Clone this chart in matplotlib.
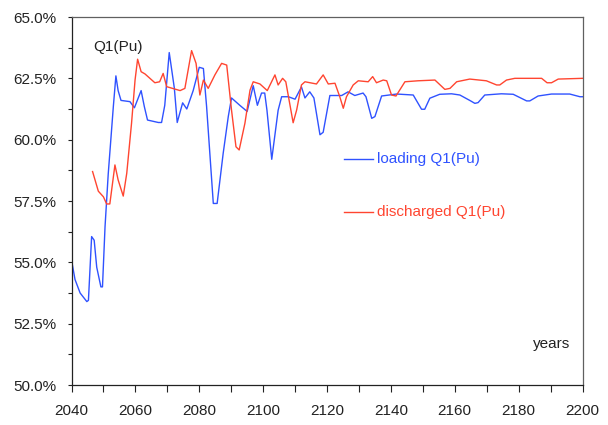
import matplotlib
matplotlib.use("Agg")
import matplotlib.pyplot as plt
from matplotlib.ticker import MultipleLocator, FuncFormatter

plt.rcParams['font.family'] = ['Liberation Sans', 'DejaVu Sans']

# loading Q1(Pu)
load_years = [2040, 2041.1, 2042.7, 2044.8, 2045.3, 2046.3, 2047.1, 2047.9, 2049.2, 2049.7,
              2050.5, 2051.5, 2053.1, 2053.9, 2054.6, 2055.5, 2058.3, 2059.7, 2061.8, 2062.8,
              2063.8, 2067.2, 2068.2, 2069.2, 2070.6, 2072.2, 2073.1, 2074.8, 2076.1, 2078.1,
              2080, 2081.3, 2082.3, 2084.4, 2085.6, 2087.5, 2089.1, 2090.1, 2092.7, 2095,
              2096.9, 2098.2, 2099.5, 2100.5, 2101.2, 2102.7, 2104.7, 2105.8, 2107.9, 2110,
              2112, 2113.1, 2114.6, 2115.9, 2117.8, 2118.8, 2120.9, 2124.6, 2126.6, 2128.7,
              2131.3, 2132.2, 2134, 2135, 2137.1, 2141.8, 2147, 2149.6, 2150.6, 2152.2,
              2155.3, 2159, 2161.6, 2164.7, 2166.3, 2167.3, 2169.4, 2174.6, 2178.3, 2182.5,
              2183.5, 2186.1, 2190.3, 2196, 2199.2, 2200]
load_q1 = [55.1, 54.3, 53.75, 53.4, 53.45, 56.05, 55.9, 54.8, 54.0, 54.0,
           56.45, 58.6, 61.35, 62.6, 62.0, 61.6, 61.55, 61.3, 62.0, 61.35,
           60.8, 60.7, 60.7, 61.4, 63.55, 62.1, 60.7, 61.5, 61.25, 62.0,
           62.95, 62.9, 61.35, 57.4, 57.4, 59.45, 60.95, 61.7, 61.4, 61.15,
           62.2, 61.4, 61.9, 61.9, 61.2, 59.2, 61.2, 61.75, 61.75, 61.65,
           62.15, 61.7, 61.95, 61.7, 60.2, 60.3, 61.8, 61.8, 61.95, 61.8,
           61.9, 61.75, 60.87, 60.94, 61.78, 61.86, 61.82, 61.24, 61.24, 61.69,
           61.85, 61.87, 61.82, 61.6, 61.48, 61.51, 61.82, 61.87, 61.85, 61.58,
           61.58, 61.78, 61.86, 61.86, 61.75, 61.75]

# discharged Q1(Pu)
disc_years = [2046.6, 2048.4, 2050, 2051, 2052, 2053.6, 2054.6, 2056.2, 2057.3, 2058.8,
              2059.9, 2060.7, 2061.8, 2063, 2066.1, 2067.6, 2068.7, 2069.8, 2074, 2075.5,
              2077.6, 2079, 2080.2, 2081.3, 2082.8, 2084.9, 2087, 2088.6, 2090.1, 2091.5,
              2092.5, 2094.3, 2095.9, 2096.9, 2099, 2101.3, 2103.7, 2104.7, 2106.1, 2107.1,
              2109.4, 2110.5, 2112, 2113.1, 2116.7, 2118.8, 2120.4, 2122.5, 2124, 2125.1,
              2126.1, 2128.2, 2129.8, 2132.9, 2134.3, 2135.5, 2137.6, 2138.7, 2140.2, 2141.6,
              2144.4, 2148.5, 2153.8, 2156.9, 2158.5, 2160.6, 2164.7, 2169.9, 2173.1, 2174.1,
              2176.2, 2178.8, 2187.2, 2188.9, 2190.3, 2192.4, 2200]
disc_q1 = [58.7, 57.9, 57.67, 57.38, 57.38, 58.97, 58.36, 57.7, 58.63, 60.67,
           62.43, 63.28, 62.77, 62.68, 62.32, 62.36, 62.7, 62.16, 62.0, 62.09,
           63.63, 63.11, 61.82, 62.43, 62.09, 62.64, 63.11, 63.04, 61.21, 59.71,
           59.58, 60.67, 62.02, 62.36, 62.27, 62.0, 62.64, 62.23, 62.5, 62.36,
           60.69, 61.21, 62.23, 62.36, 62.27, 62.64, 62.27, 62.3, 61.75, 61.28,
           61.75, 62.23, 62.4, 62.36, 62.57, 62.32, 62.43, 62.4, 61.82, 61.78,
           62.36, 62.4, 62.43, 62.05, 62.09, 62.36, 62.47, 62.4, 62.23, 62.23,
           62.43, 62.5, 62.5, 62.32, 62.32, 62.47, 62.5]

BLUE = '#2f52ff'
RED = '#ff4530'

fig = plt.figure(figsize=(6.08, 4.25), dpi=100)
ax = fig.add_axes([71.5 / 608, 40 / 425, 511 / 608, 368 / 425])

ax.plot(load_years, load_q1, color=BLUE, lw=1.0)
ax.plot(disc_years, disc_q1, color=RED, lw=1.0)

ax.set_xlim(2040, 2200)
ax.set_ylim(50, 65)
ax.xaxis.set_major_locator(MultipleLocator(20))
ax.xaxis.set_minor_locator(MultipleLocator(10))
ax.yaxis.set_major_locator(MultipleLocator(2.5))
ax.yaxis.set_minor_locator(MultipleLocator(1.25))
ax.yaxis.set_major_formatter(FuncFormatter(lambda v, p: '%.1f%%' % v))

ax.tick_params(axis='x', which='both', direction='out', length=5, width=0.8,
               labelsize=11, pad=9, colors='#222222')
ax.tick_params(axis='y', which='both', direction='out', length=3, width=0.8,
               labelsize=11, pad=8, colors='#222222')

for side in ['left', 'bottom']:
    ax.spines[side].set_color('#222222')
    ax.spines[side].set_linewidth(0.9)
for side in ['top', 'right']:
    ax.spines[side].set_color('#606060')
    ax.spines[side].set_linewidth(0.9)

ax.text(2046.8, 63.62, 'Q1(Pu)', fontsize=11, color='#222222', va='baseline')
ax.text(2196.2, 51.5, 'years', fontsize=11, color='#222222', ha='right', va='baseline')

# hand placed legend
ax.plot([2125.3, 2134.5], [59.2, 59.2], color=BLUE, lw=1.0)
ax.text(2135.6, 59.2, 'loading Q1(Pu)', fontsize=11, color=BLUE, va='center')
ax.plot([2125.3, 2134.5], [57.06, 57.06], color=RED, lw=1.0)
ax.text(2135.6, 57.06, 'discharged Q1(Pu)', fontsize=11, color=RED, va='center')

fig.savefig('out.png', dpi=100)
